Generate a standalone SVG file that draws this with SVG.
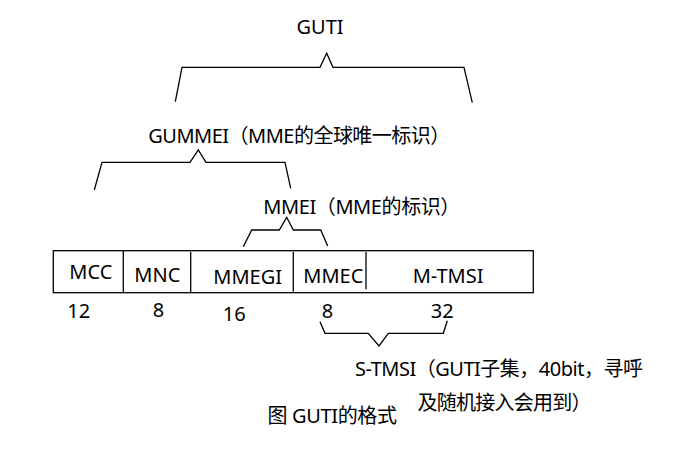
<svg xmlns="http://www.w3.org/2000/svg" width="696" height="450" viewBox="0 0 696 450">
<style>
text{font-family:"Noto Sans","Noto Sans CJK SC",sans-serif;font-size:20px;fill:#000}
.ln{fill:none;stroke:#000;stroke-width:1.3}
</style>
<rect width="696" height="450" fill="#fff"/>
<g id="connectors">
<polyline class="ln" points="175.3,101.7 182,67.3 320,67.3 326.7,53.3 333,67.3 464,67.3 472.3,102.7"/>
<polyline class="ln" points="94.3,190 102,162.3 190,162.3 198.3,150 206,162.3 285,162.3 290.7,188.3"/>
<polyline class="ln" points="243.3,246.7 251.7,230 279.3,230 286.7,217.3 293.3,230 320.7,230 327.7,246"/>
<polyline class="ln" points="320,321.7 325,333.3 368.3,333.3 379,346 388.3,333.3 443.3,333.3 447.3,320.7"/>
</g>
<g id="guti"><text x="320" y="34" text-anchor="middle">GUTI</text></g>
<g id="gummei"><text x="148.3" y="143.3" textLength="302" lengthAdjust="spacing">GUMMEI（MME的全球唯一标识）</text></g>
<g id="mmei"><text x="263.3" y="214" textLength="197" lengthAdjust="spacing">MMEI（MME的标识）</text></g>
<g id="box">
<rect class="ln" x="53.3" y="250.7" width="480" height="42"/>
<line class="ln" x1="123.3" y1="250.7" x2="123.3" y2="292.7"/>
<line class="ln" x1="190.7" y1="252" x2="190.7" y2="292.7"/>
<line class="ln" x1="293.3" y1="252" x2="293.3" y2="291.7"/>
<line class="ln" x1="366" y1="252" x2="366" y2="289.3"/>
</g>
<g id="mcc"><text x="69.3" y="279.3">MCC</text><text x="67.3" y="318.3">12</text></g>
<g id="mnc"><text x="134.3" y="281.7">MNC</text><text x="152.7" y="316.7">8</text></g>
<g id="mmegi"><text x="213.3" y="284">MMEGI</text><text x="222.7" y="321">16</text></g>
<g id="mmec"><text x="303.3" y="283.3">MMEC</text><text x="321.7" y="318.3">8</text></g>
<g id="mtmsi"><text x="412.7" y="282.7">M-TMSI</text><text x="430.7" y="318.3">32</text></g>
<g id="stmsi"><text x="355" y="376" textLength="288" lengthAdjust="spacing">S-TMSI（GUTI子集，40bit，寻呼</text><text x="417.5" y="410" textLength="174" lengthAdjust="spacing">及随机接入会用到）</text></g>
<g id="caption"><text x="267.5" y="423.3" textLength="129.5" lengthAdjust="spacing">图 GUTI的格式</text></g>
</svg>
